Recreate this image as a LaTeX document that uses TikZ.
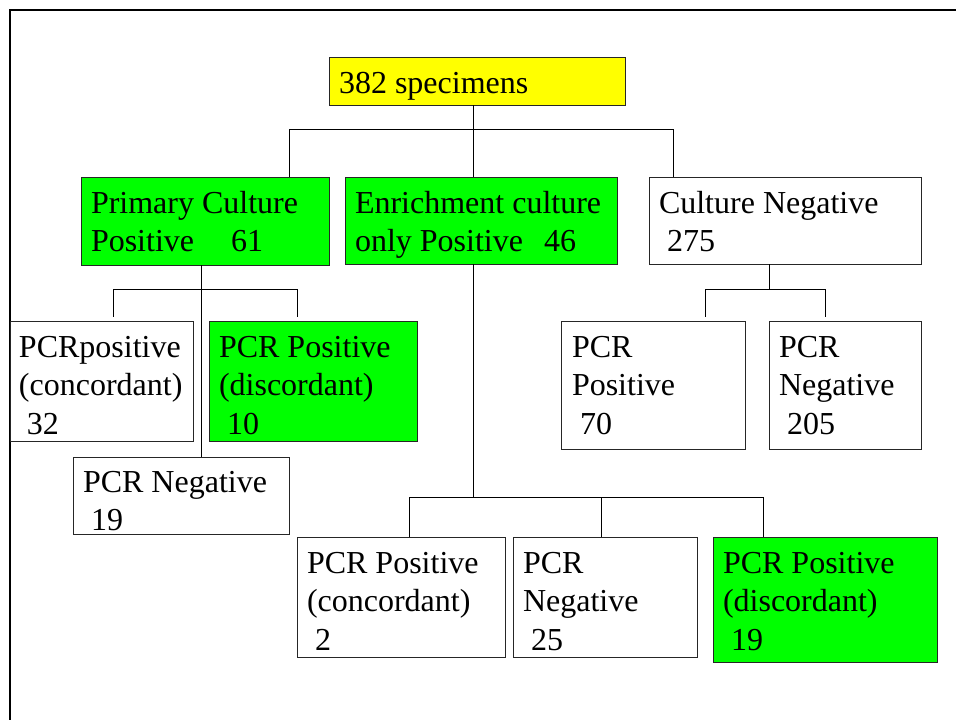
\documentclass[tikz,border=0pt]{standalone}
\usepackage{fontspec}
\setmainfont{Liberation Serif}
\newcommand\mlines[1]{\vtop{\halign{##\hfil\cr#1\crcr}}}
\definecolor{ygold}{HTML}{FFFF00}
\definecolor{gbright}{HTML}{00FF00}
\begin{document}
\begin{tikzpicture}[x=1pt,y=-1pt,
  box/.style={draw=black!85, line width=0.9pt, anchor=north west, inner sep=0pt, outer sep=0pt},
  txt/.style={anchor=base west, inner sep=0pt, outer sep=0pt, font=\fontsize{32}{38.5}\selectfont},
  wire/.style={line width=1pt, draw=black}]
\useasboundingbox (0,0) rectangle (956,720);
\draw[line width=2.5pt] (10,720) -- (10,10) -- (956,10);
% boxes
\node[box, fill=ygold, minimum width=296pt, minimum height=48pt] (top) at (329,57) {};
\node[box, fill=gbright, minimum width=248pt, minimum height=88pt] (b1) at (81,177) {};
\node[box, fill=gbright, minimum width=272pt, minimum height=87pt] (b2) at (345,177) {};
\node[box, minimum width=272pt, minimum height=87pt] (b3) at (649,177) {};
\node[box, minimum width=183pt, minimum height=120pt] (c1) at (10,321) {};
\node[box, fill=gbright, minimum width=208pt, minimum height=120pt] (c2) at (209,321) {};
\node[box, minimum width=216pt, minimum height=77pt] (c3) at (73,457) {};
\node[box, minimum width=184pt, minimum height=128pt] (d1) at (561,321) {};
\node[box, minimum width=152pt, minimum height=128pt] (d2) at (769,321) {};
\node[box, minimum width=208pt, minimum height=120pt] (e1) at (297,537) {};
\node[box, minimum width=184pt, minimum height=120pt] (e2) at (513,537) {};
\node[box, fill=gbright, minimum width=224pt, minimum height=125pt] (e3) at (713,537) {};
% texts
\node[txt] (ttop) at (339,93) {382 specimens};
\node[txt] (tb1) at (91,213) {\mlines{Primary Culture\cr Positive\hspace{37pt}61}};
\node[txt] (tb2) at (355,213) {\mlines{Enrichment culture\cr only Positive\hspace{21pt}46}};
\node[txt] (tb3) at (659,213) {\mlines{Culture Negative\cr\ 275}};
\node[txt] (tc1) at (19,357) {\mlines{PCRpositive\cr (concordant)\cr\ 32}};
\node[txt] (tc2) at (219,357) {\mlines{PCR Positive\cr (discordant)\cr\ 10}};
\node[txt] (tc3) at (83,492) {\mlines{PCR Negative\cr\ 19}};
\node[txt] (td1) at (572,357) {\mlines{PCR\cr Positive\cr\ 70}};
\node[txt] (td2) at (779,357) {\mlines{PCR\cr Negative\cr\ 205}};
\node[txt] (te1) at (307,573) {\mlines{PCR Positive\cr (concordant)\cr\ 2}};
\node[txt] (te2) at (523,573) {\mlines{PCR\cr Negative\cr\ 25}};
\node[txt] (te3) at (723,573) {\mlines{PCR Positive\cr (discordant)\cr\ 19}};
% connectors: top level
\coordinate (j0) at (473,129);
\coordinate (j0l) at (289,129);
\coordinate (j0r) at (673,129);
\draw[wire] (top.south -| j0) -- (j0);
\draw[wire] (j0l) -- (j0r);
\draw[wire] (j0l) -- (b1.north -| j0l);
\draw[wire] (j0) -- (b2.north -| j0);
\draw[wire] (j0r) -- (b3.north -| j0r);
% primary culture branch
\coordinate (j1) at (201,289);
\coordinate (j1l) at (113,289);
\coordinate (j1r) at (297,289);
\coordinate (k1l) at (113,317);
\coordinate (k1r) at (297,317);
\draw[wire] (b1.south -| j1) -- (c3.north -| j1);
\draw[wire] (j1l) -- (j1r);
\draw[wire] (j1l) -- (k1l);
\draw[wire] (j1r) -- (k1r);
% enrichment branch
\coordinate (j2) at (473,497);
\coordinate (j2l) at (409,497);
\coordinate (j2m) at (601,497);
\coordinate (j2r) at (763,497);
\draw[wire] (b2.south -| j2) -- (j2);
\draw[wire] (j2l) -- (j2r);
\draw[wire] (j2l) -- (e1.north -| j2l);
\draw[wire] (j2m) -- (e2.north -| j2m);
\draw[wire] (j2r) -- (e3.north -| j2r);
% culture negative branch
\coordinate (j3) at (769,289);
\coordinate (j3l) at (705,289);
\coordinate (j3r) at (825,289);
\coordinate (k3l) at (705,317);
\coordinate (k3r) at (825,317);
\draw[wire] (b3.south -| j3) -- (j3);
\draw[wire] (j3l) -- (j3r);
\draw[wire] (j3l) -- (k3l);
\draw[wire] (j3r) -- (k3r);
\end{tikzpicture}
\end{document}
